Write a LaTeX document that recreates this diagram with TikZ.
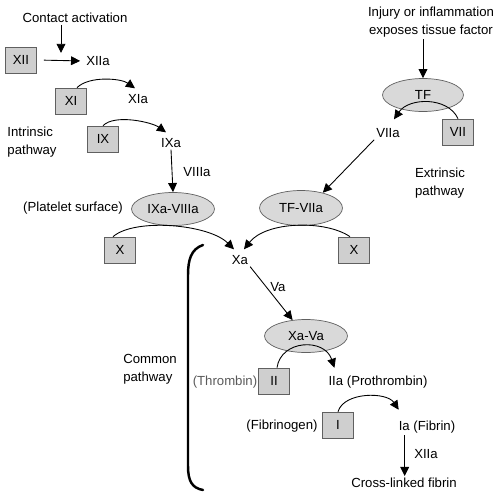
\documentclass[tikz,border=0pt]{standalone}
\usepackage{fontspec}
\setmainfont{Liberation Sans}
\usetikzlibrary{arrows.meta,shapes.geometric,calc}
\definecolor{boxgray}{HTML}{CFCFCF}
\definecolor{ellgray}{HTML}{D9D9D9}
\definecolor{edgegray}{HTML}{606060}
\definecolor{notegray}{HTML}{5A5A5A}
\tikzset{
  factorbox/.style={
    rectangle, draw=edgegray, fill=boxgray, thin,
    minimum width=0.62cm, minimum height=0.52cm,
    font=\fontsize{7.5}{10}\selectfont, inner sep=1pt
  },
  cplxnode/.style={
    ellipse, draw=edgegray, fill=ellgray, thin,
    minimum width=1.66cm, minimum height=0.66cm,
    font=\fontsize{7.5}{10}\selectfont, inner sep=1pt
  },
  labelnode/.style={
    font=\fontsize{7.5}{10}\selectfont, inner sep=1pt, align=#1
  },
  labelnode/.default=center,
  reactarrow/.style={
    -{Triangle[length=5.2pt,width=5pt]}, line width=0.5pt, color=black
  },
}

\begin{document}
\begin{tikzpicture}[x=0.02cm, y=-0.02cm]
  \useasboundingbox (0,0) rectangle (500,498);
  % intrinsic pathway
  \node[labelnode] (contact) at (75,18) {Contact activation};
  \node[factorbox] (xii) at (21,60) {XII};
  \node[labelnode] (xiia) at (98,61) {XIIa};
  \node[factorbox] (xi) at (71,101) {XI};
  \node[labelnode] (xia) at (138,99) {XIa};
  \node[factorbox] (ix) at (103,139) {IX};
  \node[labelnode] (ixa) at (171,143) {IXa};
  \node[labelnode=left] (intrinsic) at (32,142) {Intrinsic\\pathway};
  \node[labelnode] (viiia) at (197,172) {VIIIa};
  \node[cplxnode] (ixaviiia) at (173,209) {IXa-VIIIa};
  \node[labelnode] (platelet) at (73,208) {(Platelet surface)};
  \node[factorbox] (xleft) at (120,250) {X};
  \node[labelnode] (xa) at (240,260) {Xa};
  % extrinsic pathway
  \node[labelnode] (injury) at (431,22) {Injury or inflammation\\exposes tissue factor};
  \node[cplxnode, minimum width=1.62cm] (tf) at (423,95) {TF};
  \node[factorbox] (vii) at (458,132) {VII};
  \node[labelnode] (viia) at (388,133) {VIIa};
  \node[labelnode=left] (extrinsic) at (440,183) {Extrinsic\\pathway};
  \node[cplxnode, minimum height=0.7cm] (tfviia) at (301,208) {TF-VIIa};
  \node[factorbox] (xright) at (354,250) {X};
  % common pathway
  \node[labelnode] (va) at (278,287) {Va};
  \node[cplxnode] (xava) at (306,336) {Xa-Va};
  \node[factorbox] (ii) at (274,381) {II};
  \node[labelnode, text=notegray] (thrombin) at (225,382) {(Thrombin)};
  \node[labelnode] (iia) at (378,382) {IIa (Prothrombin)};
  \node[factorbox] (fi) at (338,425) {I};
  \node[labelnode] (fibrinogen) at (282,426) {(Fibrinogen)};
  \node[labelnode] (ia) at (427,427) {Ia (Fibrin)};
  \node[labelnode] (xiiab) at (426,454) {XIIa};
  \node[labelnode] (xfibrin) at (404,483) {Cross-linked fibrin};
  \node[labelnode=left] (common) at (150,369) {Common\\pathway};
  \coordinate (contactend) at (61,53);
  % arrows
  \draw[reactarrow] (contact.south -| contactend) -- (contactend);
  \draw[reactarrow, shorten <=0.14cm, shorten >=0.08cm] (xii.east) -- (xiia.west);
  \draw[reactarrow] ([shift={(6,0)}]xi.north) .. controls +(12,-12) and +(-14,-10) .. ([shift={(-3,-4)}]xia.north);
  \draw[reactarrow] (ix.north) .. controls +(12,-12) and +(-14,-10) .. ([shift={(-5,-4)}]ixa.north);
  \draw[reactarrow] (ixa.south) -- (ixaviiia.north);
  \draw[reactarrow] ([shift={(-7,0)}]xleft.north) .. controls +(22,-19) and +(-25,-25) .. ([shift={(-6,-4)}]xa.north);
  \draw[reactarrow] (injury.south -| tf.north) -- (tf.north);
  \draw[reactarrow] (vii.north) .. controls +(-10,-22) and +(15,-22) .. ([shift={(6,-7)}]viia.north);
  \draw[reactarrow] (viia.south west) -- (tfviia.35);
  \draw[reactarrow] ([shift={(-4,0)}]xright.north) .. controls +(-25,-17) and +(22,-28) .. ([shift={(4,-4)}]xa.north);
  \draw[reactarrow] (xa.south east) -- (xava.130);
  \draw[reactarrow] ([shift={(3,0)}]ii.north) .. controls +(4,-28) and +(-10,-30) .. ([shift={(8,-6)}]iia.north west);
  \draw[reactarrow] (fi.north) .. controls +(6,-20) and +(-12,-18) .. ([shift={(2,-9)}]ia.north west);
  \draw[reactarrow] ([shift={(8,0)}]ia.south west) -- ([shift={(8,0)}]ia.south west |- xfibrin.north);
  % bracket
  \draw[line width=1.4pt, line cap=round] (203,245) .. controls (191,249) and (188,260) .. (188,275)
    -- (188,466) .. controls (188,481) and (192,488) .. (203,490);
\end{tikzpicture}
\end{document}
